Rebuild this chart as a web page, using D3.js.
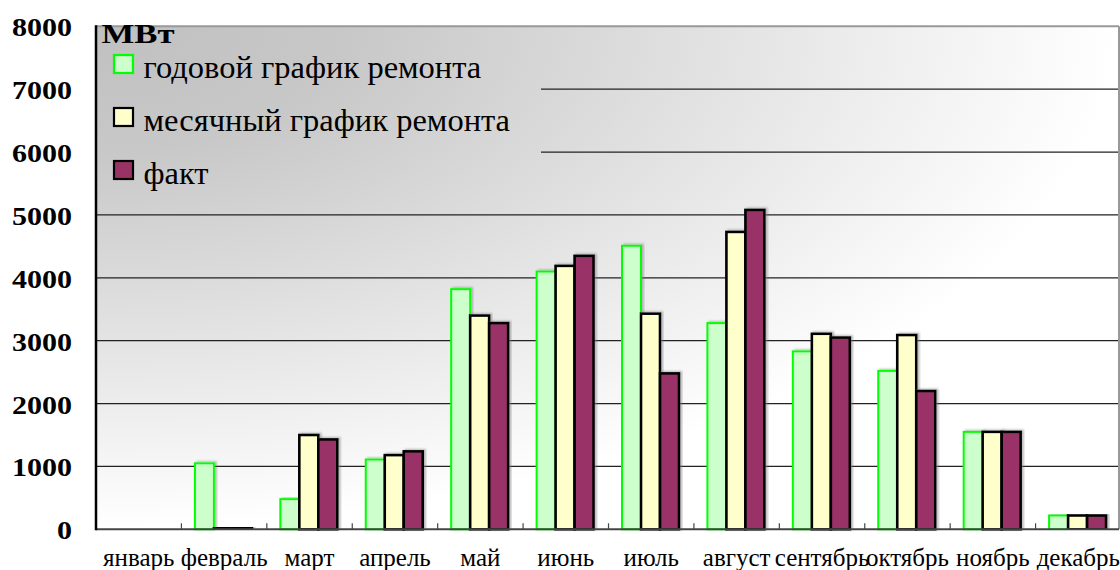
<!DOCTYPE html>
<html>
<head>
<meta charset="utf-8">
<script src="https://cdn.jsdelivr.net/npm/d3@7"></script>
<style>
  html, body { margin: 0; padding: 0; background: #fff; }
  svg { display: block; }
</style>
</head>
<body>
<div id="chart"></div>
<script>
// data
const months = ["январь", "февраль", "март", "апрель", "май", "июнь",
                "июль", "август", "сентябрь", "октябрь", "ноябрь", "декабрь"];
const seriesNames = ["годовой график ремонта", "месячный график ремонта", "факт"];
const yearPlan  = [0, 1050, 480, 1110, 3820, 4100, 4510, 3280, 2830, 2520, 1550, 220];
const monthPlan = [0, 30, 1500, 1180, 3400, 4190, 3430, 4730, 3110, 3090, 1550, 220];
const actual    = [0, 30, 1430, 1240, 3280, 4350, 2480, 5080, 3050, 2200, 1550, 220];
const yTicks = [0, 1000, 2000, 3000, 4000, 5000, 6000, 7000, 8000];
const unitLabel = "МВт";

const fills   = ["#ccffcc", "#ffffcc", "#993366"];
const strokes = ["#00ff00", "#000000", "#000000"];
const serif = "'Liberation Serif', 'DejaVu Serif', serif";

const W = 1120, H = 570;
const plotLeft = 96, plotRight = 1119, bandRight = 1121, plotTop = 26.3, plotBottom = 529.3;

const svg = d3.select("#chart").append("svg")
  .attr("width", W).attr("height", H);

const defs = svg.append("defs");

// corner gradient of the plot area (user space so the legend patch matches)
const grad = defs.append("radialGradient")
  .attr("id", "bg")
  .attr("gradientUnits", "userSpaceOnUse")
  .attr("cx", 0).attr("cy", 0).attr("r", 1)
  .attr("gradientTransform", `translate(${plotLeft},${plotTop}) scale(${plotRight - plotLeft},${plotBottom - plotTop})`);
grad.append("stop").attr("offset", 0).attr("stop-color", "#c0c0c0");
grad.append("stop").attr("offset", 0.25).attr("stop-color", "#c8c8c8");
grad.append("stop").attr("offset", 1).attr("stop-color", "#ffffff");

const shadow = defs.append("filter").attr("id", "shadow")
  .attr("x", "-20%").attr("y", "-5%").attr("width", "140%").attr("height", "110%");
shadow.append("feDropShadow")
  .attr("dx", 2).attr("dy", -1).attr("stdDeviation", 0.8)
  .attr("flood-color", "#777").attr("flood-opacity", 0.5);

// Scales
const x = d3.scaleBand().domain(months).range([plotLeft, bandRight]).padding(0);
const xs = d3.scaleBand().domain(d3.range(3)).range([13.5, 70.5]).padding(0);
const y = d3.scaleLinear().domain([0, 8000]).range([plotBottom, plotTop]);

// Plot background
svg.append("rect")
  .attr("x", plotLeft).attr("y", plotTop)
  .attr("width", plotRight - plotLeft).attr("height", plotBottom - plotTop)
  .attr("fill", "url(#bg)");

// Gridlines
svg.append("g")
  .selectAll("line")
  .data(yTicks.filter(d => d > 0 && d < 8000))
  .enter().append("line")
  .attr("x1", plotLeft).attr("x2", plotRight)
  .attr("y1", d => y(d)).attr("y2", d => y(d))
  .attr("stroke", "#222").attr("stroke-width", 1.2);

// Legend patch hides the gridlines behind it
svg.append("rect")
  .attr("x", plotLeft + 1).attr("y", plotTop + 1)
  .attr("width", 540 - plotLeft).attr("height", 200 - plotTop)
  .attr("fill", "url(#bg)");

// Borders
svg.append("line").attr("x1", plotLeft).attr("x2", plotRight).attr("y1", plotTop).attr("y2", plotTop)
  .attr("stroke", "#999").attr("stroke-width", 2);
svg.append("line").attr("x1", plotRight).attr("x2", plotRight).attr("y1", plotTop).attr("y2", plotBottom)
  .attr("stroke", "#999").attr("stroke-width", 2);

// Bars
const series = [yearPlan, monthPlan, actual];
const barG = svg.append("g");
series.forEach((vals, s) => {
  barG.append("g")
    .selectAll("rect")
    .data(months.map((m, i) => ({ m, v: vals[i] })).filter(d => d.v > 0))
    .enter().append("rect")
    .attr("x", d => x(d.m) + xs(s))
    .attr("width", xs.bandwidth())
    .attr("y", d => y(d.v))
    .attr("height", d => plotBottom - y(d.v))
    .attr("fill", fills[s])
    .attr("stroke", strokes[s])
    .attr("stroke-width", s === 0 ? 2 : 2.6)
    .attr("filter", "url(#shadow)");
});

// Axis lines
svg.append("line").attr("x1", plotLeft).attr("x2", plotRight).attr("y1", plotBottom).attr("y2", plotBottom)
  .attr("stroke", "#444").attr("stroke-width", 2);
svg.append("g")
  .selectAll("line")
  .data(months.slice(1))
  .enter().append("line")
  .attr("x1", d => x(d)).attr("x2", d => x(d))
  .attr("y1", plotBottom).attr("y2", plotBottom - 6)
  .attr("stroke", "#444").attr("stroke-width", 1.2);
svg.append("line").attr("x1", plotLeft).attr("x2", plotLeft).attr("y1", plotTop - 1).attr("y2", plotBottom + 1)
  .attr("stroke", "#000").attr("stroke-width", 2.5);

// Y labels (bold, stretched)
const yAxis = svg.append("g")
  .attr("transform", `translate(${plotLeft},0)`)
  .call(d3.axisLeft(y).tickValues(yTicks).tickSize(0).tickPadding(24).tickFormat(d3.format("d")));
yAxis.select(".domain").remove();
yAxis.selectAll("text")
  .attr("dy", "9.5")
  .attr("fill", "#000")
  .style("font-family", serif)
  .attr("font-size", 25.5)
  .attr("font-weight", "bold")
  .attr("textLength", d => String(d).length * 15)
  .attr("lengthAdjust", "spacingAndGlyphs");

// X labels
const xAxis = svg.append("g")
  .attr("transform", `translate(0,${plotBottom})`)
  .call(d3.axisBottom(x).tickSize(0));
xAxis.select(".domain").remove();
xAxis.selectAll("text")
  .attr("y", 36.7)
  .attr("dy", 0)
  .attr("fill", "#000")
  .style("font-family", serif)
  .attr("font-size", 25);

// Unit label
svg.append("text")
  .attr("x", 101.5).attr("y", 42.7)
  .style("font-family", serif)
  .attr("font-size", 26.5)
  .attr("font-weight", "bold")
  .attr("textLength", 73)
  .attr("lengthAdjust", "spacingAndGlyphs")
  .text(unitLabel);

// Legend
const legend = svg.append("g");
seriesNames.forEach((name, i) => {
  const ly = 55 + i * 53;
  legend.append("rect")
    .attr("x", 114).attr("y", ly)
    .attr("width", 19).attr("height", 18)
    .attr("fill", fills[i])
    .attr("stroke", strokes[i])
    .attr("stroke-width", 2.2);
  legend.append("text")
    .attr("x", 143.5).attr("y", ly + 22.5)
    .style("font-family", serif)
    .attr("font-size", 32.5)
    .text(name);
});
</script>
</body>
</html>
